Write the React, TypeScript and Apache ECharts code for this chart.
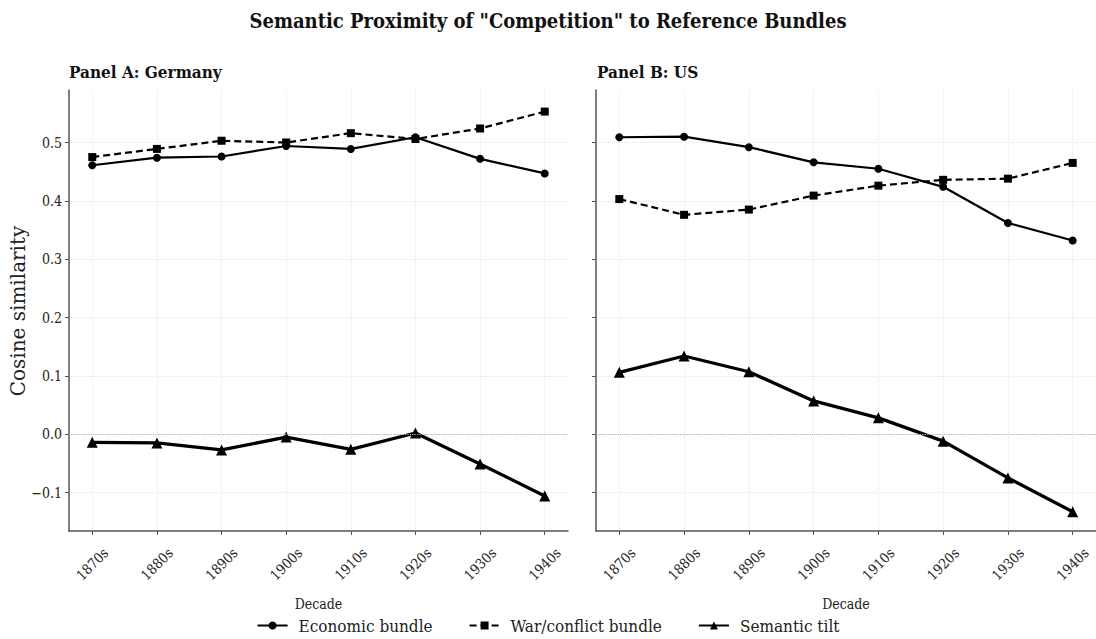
import React, { useEffect, useRef } from "react";
import * as echarts from "echarts";

const decades = ["1870s", "1880s", "1890s", "1900s", "1910s", "1920s", "1930s", "1940s"];
const yTicks = [-0.1, 0, 0.1, 0.2, 0.3, 0.4, 0.5];

const germanyEconomic = [0.461, 0.474, 0.476, 0.494, 0.489, 0.509, 0.472, 0.447];
const germanyWar = [0.475, 0.489, 0.503, 0.5, 0.516, 0.506, 0.524, 0.553];
const germanyTilt = [-0.014, -0.015, -0.027, -0.005, -0.026, 0.002, -0.051, -0.106];

const usEconomic = [0.509, 0.51, 0.492, 0.466, 0.455, 0.424, 0.362, 0.332];
const usWar = [0.403, 0.376, 0.385, 0.409, 0.426, 0.436, 0.438, 0.465];
const usTilt = [0.106, 0.134, 0.107, 0.057, 0.028, -0.012, -0.075, -0.133];

const SERIF = "'DejaVu Serif Condensed', 'DejaVu Serif', serif";

const toPairs = (vals: number[]) => vals.map((v, i) => [i, v]);
const fmtY = (v: number) => {
  const s = Math.abs(v).toFixed(1);
  return v < -1e-9 ? "\u2212" + s : s;
};

export default function App() {
  const ref = useRef<HTMLDivElement>(null);
  useEffect(() => {
    if (!ref.current) return;
    const chart = echarts.init(ref.current, null, { renderer: "svg" });
    const xIdx = decades.map((_, i) => i);

    const makeX = (gridIndex: number) => ({
      type: "value",
      gridIndex,
      min: -0.36,
      max: 7.36,
      name: "Decade",
      nameLocation: "middle",
      nameGap: 66,
      nameTextStyle: { fontFamily: SERIF, fontSize: 14, color: "#222" },
      axisLine: { show: true, onZero: false, lineStyle: { color: "#555", width: 1.5 } },
      axisTick: { show: true, customValues: xIdx, length: 4, lineStyle: { color: "#555" } },
      axisLabel: {
        customValues: xIdx,
        rotate: 45,
        align: "center",
        verticalAlign: "middle",
        margin: 33,
        fontFamily: SERIF,
        fontSize: 14,
        color: "#222",
        formatter: (v: number) => decades[Math.round(v)] ?? "",
      },
      splitLine: { show: true, lineStyle: { color: "#e6e6e6", type: "dotted", width: 1 } },
    });
    const makeY = (gridIndex: number, showLabels: boolean) => ({
      type: "value",
      gridIndex,
      min: -0.166,
      max: 0.59,
      axisLine: { show: true, onZero: false, lineStyle: { color: "#555", width: 1.5 } },
      axisTick: { show: true, customValues: yTicks, length: 4, lineStyle: { color: "#555" } },
      axisLabel: {
        show: showLabels,
        customValues: yTicks,
        fontFamily: SERIF,
        fontSize: 14,
        color: "#222",
        margin: 7,
        formatter: (v: number) => fmtY(v),
      },
      splitLine: { show: true, lineStyle: { color: "#e6e6e6", type: "dotted", width: 1 } },
    });

    const zeroLine = {
      silent: true,
      symbol: "none",
      label: { show: false },
      lineStyle: { color: "#b5b5b5", type: "dotted", width: 1.2 },
      data: [{ yAxis: 0 }],
    };

    const mk = (name: string, data: number[], idx: number, kind: "econ" | "war" | "tilt", withZero = false) => {
      const base: any = {
        name,
        type: "line",
        xAxisIndex: idx,
        yAxisIndex: idx,
        data: toPairs(data),
        color: "#000",
        itemStyle: { color: "#000" },
        z: kind === "tilt" ? 4 : 3,
      };
      if (kind === "econ") {
        base.symbol = "circle";
        base.symbolSize = 8;
        base.lineStyle = { color: "#000", width: 2.2 };
      } else if (kind === "war") {
        base.symbol = "rect";
        base.symbolSize = 8;
        base.lineStyle = { color: "#000", width: 2.2, type: [7, 4] };
      } else {
        base.symbol = "triangle";
        base.symbolSize = 11;
        base.lineStyle = { color: "#000", width: 3.3 };
      }
      if (withZero) base.markLine = zeroLine;
      return base;
    };

    chart.setOption({
      animation: false,
      backgroundColor: "#fff",
      textStyle: { fontFamily: SERIF },
      title: [
        {
          text: 'Semantic Proximity of "Competition" to Reference Bundles',
          left: "center",
          top: 6,
          textStyle: { fontFamily: SERIF, fontWeight: "bold", fontSize: 20, color: "#111" },
        },
        {
          text: "Panel A: Germany",
          left: 69,
          top: 63,
          padding: 0,
          textStyle: { fontFamily: SERIF, fontWeight: "bold", fontSize: 17, color: "#111" },
        },
        {
          text: "Panel B: US",
          left: 597,
          top: 63,
          padding: 0,
          textStyle: { fontFamily: SERIF, fontWeight: "bold", fontSize: 17, color: "#111" },
        },
      ],
      legend: {
        bottom: 0,
        left: "center",
        itemWidth: 30,
        itemHeight: 10,
        itemGap: 36,
        textStyle: { fontFamily: SERIF, fontSize: 17, color: "#222", padding: [0, 0, 0, 6] },
        data: ["Economic bundle", "War/conflict bundle", "Semantic tilt"],
      },
      graphic: [
        {
          type: "text",
          x: 18,
          y: 311,
          rotation: Math.PI / 2,
          style: {
            text: "Cosine similarity",
            fontFamily: "'DejaVu Serif', serif",
            fontSize: 20,
            fill: "#222",
            textAlign: "center",
            textVerticalAlign: "middle",
          },
        },
      ],
      grid: [
        { left: 69, top: 90, width: 499, height: 441 },
        { left: 596, top: 90, width: 506, height: 441 },
      ],
      xAxis: [makeX(0), makeX(1)],
      yAxis: [makeY(0, true), makeY(1, false)],
      series: [
        mk("Economic bundle", germanyEconomic, 0, "econ", true),
        mk("War/conflict bundle", germanyWar, 0, "war"),
        mk("Semantic tilt", germanyTilt, 0, "tilt"),
        mk("Economic bundle", usEconomic, 1, "econ", true),
        mk("War/conflict bundle", usWar, 1, "war"),
        mk("Semantic tilt", usTilt, 1, "tilt"),
      ],
    });
    return () => chart.dispose();
  }, []);
  return (
    <div
      ref={ref}
      style={{ position: "fixed", left: 0, top: 0, width: 1096, height: 639, background: "#fff" }}
    />
  );
}
